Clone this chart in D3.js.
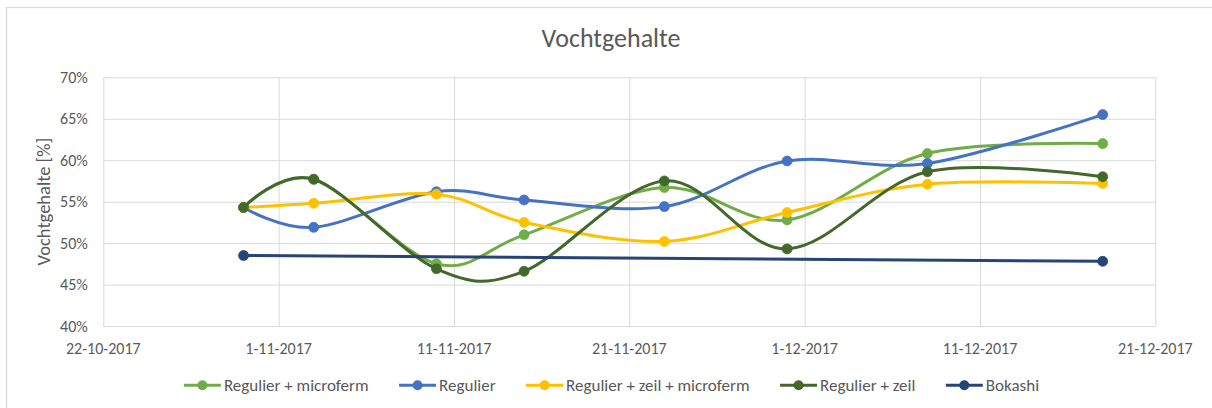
<!DOCTYPE html>
<html>
<head>
<meta charset="utf-8">
<script src="https://cdn.jsdelivr.net/npm/d3@7"></script>
<style>
  html, body { margin: 0; padding: 0; background: #fff; }
  svg { display: block; }
  text { font-family: Carlito, Lato, "Open Sans", sans-serif; fill: #595959; }
</style>
</head>
<body>
<svg id="chart" width="1212" height="408"></svg>
<script>
// ---- data ----
const chartTitle = "Vochtgehalte";
const yAxisTitle = "Vochtgehalte [%]";
const measureDates = ["2017-10-30", "2017-11-03", "2017-11-10", "2017-11-15", "2017-11-23", "2017-11-30", "2017-12-08", "2017-12-18"];
const bokashiDates = ["2017-10-30", "2017-12-18"];
const seriesNames = ["Regulier + microferm", "Regulier", "Regulier + zeil + microferm", "Regulier + zeil", "Bokashi"];
const seriesColors = ["#70AD47", "#4472C4", "#FFC000", "#43682B", "#264478"];
const regulierMicroferm = [54.3, 57.7, 47.5, 51.0, 56.7, 52.8, 60.8, 62.0];
const regulier = [54.3, 51.9, 56.2, 55.2, 54.4, 59.9, 59.6, 65.5];
const regulierZeilMicroferm = [54.3, 54.8, 55.9, 52.5, 50.2, 53.7, 57.1, 57.2];
const regulierZeil = [54.3, 57.7, 46.9, 46.6, 57.5, 49.3, 58.6, 58.0];
const bokashi = [48.5, 47.8];
const xTickLabels = ["22-10-2017", "1-11-2017", "11-11-2017", "21-11-2017", "1-12-2017", "11-12-2017", "21-12-2017"];
const yTicks = [40, 45, 50, 55, 60, 65, 70];

// ---- build ----
const parse = d3.timeParse("%Y-%m-%d");
const parseTick = d3.timeParse("%d-%m-%Y");
const seriesValues = [regulierMicroferm, regulier, regulierZeilMicroferm, regulierZeil, bokashi];
const seriesDates = [measureDates, measureDates, measureDates, measureDates, bokashiDates];
const series = seriesNames.map((name, i) => ({
  name, color: seriesColors[i],
  points: seriesValues[i].map((v, j) => ({ date: parse(seriesDates[i][j]), value: v }))
}));
const tickDates = xTickLabels.map(parseTick);

const svg = d3.select("#chart");
const plot = { left: 103.3, right: 1155.3, top: 77.3, bottom: 326 };

// chart border
svg.append("rect").attr("x", 6.5).attr("y", 7.5).attr("width", 1220).attr("height", 420)
  .attr("fill", "#fff").attr("stroke", "#D9D9D9").attr("stroke-width", 1.3);

const x = d3.scaleTime().domain([tickDates[0], tickDates[tickDates.length - 1]]).range([plot.left, plot.right]);
const y = d3.scaleLinear().domain([40, 70]).range([plot.bottom, plot.top]);

// gridlines
const gy = svg.append("g").attr("transform", `translate(${plot.left},0)`)
  .call(d3.axisLeft(y).tickValues(yTicks).tickSize(-(plot.right - plot.left)).tickFormat(""));
gy.select(".domain").remove();
gy.selectAll("line").attr("stroke", "#D9D9D9").attr("stroke-width", 1);

const gx = svg.append("g").attr("transform", `translate(0,${plot.bottom})`)
  .call(d3.axisBottom(x).tickValues(tickDates).tickSize(-(plot.bottom - plot.top)).tickFormat(""));
gx.select(".domain").remove();
gx.selectAll("line").attr("stroke", "#D9D9D9").attr("stroke-width", 1);

// tick labels
svg.append("g").selectAll("text").data(yTicks).join("text")
  .attr("x", 87.7).attr("y", d => y(d)).attr("dy", "0.35em")
  .attr("text-anchor", "end").attr("font-size", 16)
  .text(d => d + "%");
svg.append("g").selectAll("text").data(tickDates).join("text")
  .attr("x", d => x(d)).attr("y", 353.5)
  .attr("text-anchor", "middle").attr("font-size", 16)
  .text((d, i) => xTickLabels[i]);

// title
svg.append("text").attr("x", 611).attr("y", 47).attr("text-anchor", "middle")
  .attr("font-size", 26).text(chartTitle);
// y axis title
svg.append("text").attr("transform", `translate(49.5,${(plot.top + plot.bottom) / 2}) rotate(-90)`)
  .attr("text-anchor", "middle").attr("font-size", 18.5).text(yAxisTitle);

// series
const line = d3.line().x(d => x(d.date)).y(d => y(d.value)).curve(d3.curveCardinal.tension(0));
series.forEach(s => {
  const g = svg.append("g");
  g.append("path").attr("d", line(s.points)).attr("fill", "none")
    .attr("stroke", s.color).attr("stroke-width", 3).attr("stroke-linecap", "round");
  g.selectAll("circle").data(s.points).join("circle")
    .attr("cx", d => x(d.date)).attr("cy", d => y(d.value)).attr("r", 5)
    .attr("fill", s.color).attr("stroke", s.color).attr("stroke-width", 0.75);
});

// legend
const legend = svg.append("g");
let cx = 0;
series.forEach(s => {
  const g = legend.append("g").attr("transform", `translate(${cx},0)`);
  g.append("line").attr("x1", 0).attr("x2", 37).attr("y1", 0).attr("y2", 0)
    .attr("stroke", s.color).attr("stroke-width", 3);
  g.append("circle").attr("cx", 18.5).attr("cy", 0).attr("r", 5).attr("fill", s.color);
  const t = g.append("text").attr("x", 40).attr("y", 0).attr("dy", "0.35em")
    .attr("font-size", 17).text(s.name);
  const w = t.node().getComputedTextLength();
  cx += 40 + w + 30.5;
});
const totalW = cx - 30.5;
legend.attr("transform", `translate(${611.5 - totalW / 2},385.3)`);
</script>
</body>
</html>
